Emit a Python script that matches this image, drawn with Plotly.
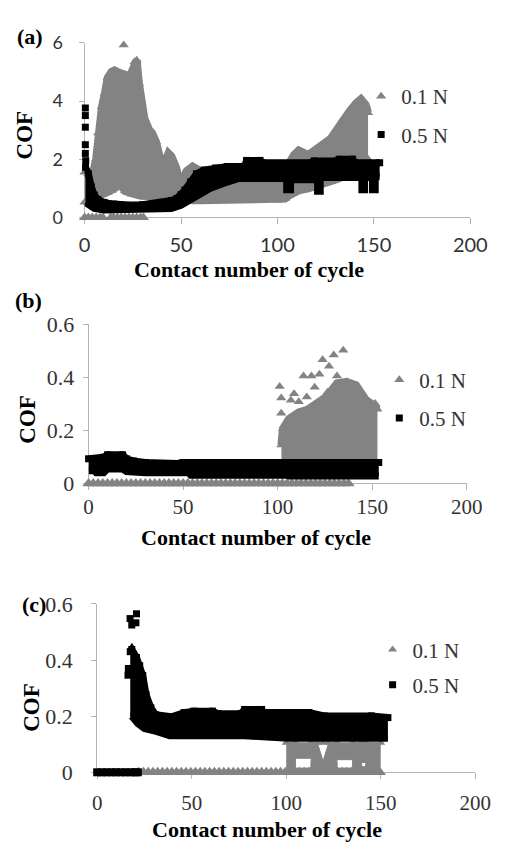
import plotly.graph_objects as go

W, H = 508, 851
GRAY = "#838383"
BLACK = "#000000"
AXIS_COL = "#b4b4b4"
SERIF = "Liberation Serif, Times New Roman, serif"
SANS = "Lato, Liberation Sans, sans-serif"
TXT = "#333333"

SERIES = ["0.1 N", "0.5 N"]

# ---------------- panel (a) ----------------
A_GRAY_ROW_X = [0, 2, 4, 6, 8, 9.5, 13.5, 15, 17, 19, 21, 23, 25, 27, 29, 30.5]
A_GRAY_ROW_Y = [0, 0, 0, 0, 0, 0, 0, 0, 0, 0, 0, 0, 0, 0, 0, 0]
A_GRAY_X = [0, 2, 4, 6, 7, 9, 10.5, 12, 14, 15.5, 17, 18.5, 21, 23, 24.5, 26, 27, 28.2,
            29.4, 31, 33.5, 35, 37, 38.5, 40, 42, 43.5, 45, 47.5, 49, 51, 53, 56, 60, 70,
            80, 90, 100, 104, 106, 108.6, 111, 116, 122.6, 127.6, 131, 134, 137.5, 140.8,
            143.3, 145.7, 147]
A_GRAY_HI = [1.55, 1.5, 1.4, 2.0, 2.9, 3.8, 4.25, 4.8, 5.0, 5.05, 5.0, 4.95, 4.9, 4.85,
             5.0, 5.35, 5.4, 4.6, 4.0, 3.4, 3.0, 2.9, 2.6, 2.05, 1.8, 1.95, 2.2, 2.1, 1.7,
             1.25, 1.35, 1.6, 1.75, 1.6, 1.6, 1.6, 1.6, 1.6, 1.7, 1.85, 2.15, 2.3, 2.15,
             2.42, 2.7, 3.03, 3.37, 3.65, 3.92, 4.06, 3.87, 3.6]
A_GRAY_LO = [0.52, 0.52, 0.52, 0.6, 0.7, 0.8, 0.83, 0.86, 0.93, 1.0, 1.21, 1.15, 0.91,
             0.85, 0.8, 0.78, 0.77, 0.76, 0.75, 0.75, 0.75, 0.75, 0.75, 0.75, 0.75, 0.75,
             0.75, 0.75, 0.72, 0.7, 0.67, 0.62, 0.59, 0.59, 0.59, 0.59, 0.59, 0.59, 0.65,
             0.76, 0.85, 0.93, 1.0, 1.12, 1.23, 1.32, 1.42, 1.52, 1.62, 1.75, 1.95, 2.0]
A_GRAY_PTS_X = [20.3]
A_GRAY_PTS_Y = [5.92]

A_BLACK_PTS_X = [0.4, 0.4, 0.4, 0.4, 0.4, 0.6]
A_BLACK_PTS_Y = [3.76, 3.5, 3.1, 2.5, 2.2, 1.95]
A_BLACK_HI_X = [0.5, 2, 3.5, 5, 7, 10, 15, 20, 25, 30, 35, 40, 45, 48, 50, 52, 55, 58,
                62, 68, 74, 83, 84, 91, 92, 118, 119, 131, 132, 139, 140, 153]
A_BLACK_HI = [1.72, 1.5, 1.05, 0.77, 0.61, 0.52, 0.46, 0.41, 0.42, 0.44, 0.47, 0.52,
              0.58, 0.66, 0.78, 0.94, 1.22, 1.5, 1.63, 1.7, 1.75, 1.76, 1.96, 1.96, 1.88,
              1.88, 1.94, 1.94, 2.0, 2.0, 1.88, 1.88]
A_BLACK_LO_X = [0.5, 2.5, 5, 10, 40, 45, 50, 55, 60, 65, 72, 76, 80, 104.8, 104.8, 106.8,
                106.8, 120.8, 120.8, 122.2, 122.2, 143.8, 143.8, 145.2, 145.2, 149.3,
                149.3, 150.7, 150.7, 153]
A_BLACK_LO = [0.51, 0.45, 0.31, 0.26, 0.26, 0.31, 0.42, 0.62, 0.84, 1.0, 1.17, 1.26,
              1.34, 1.34, 0.95, 0.95, 1.3, 1.3, 0.9, 0.9, 1.37, 1.37, 0.95, 0.95, 1.37,
              1.37, 0.95, 0.95, 1.4, 1.4]

# ---------------- panel (b) ----------------
B_GRAY_ROW_X = [0, 2.5, 5, 7.5, 10, 12.5, 15, 17.5, 20, 22.5, 25, 27.5, 30, 32.5, 35,
                37.5, 40, 42.5, 45, 47.5, 50, 52.5, 55, 57.5, 60, 62.5, 65, 67.5, 70, 72.5,
                75, 77.5, 80, 82.5, 85, 87.5, 90, 92.5, 95, 97.5, 100, 102.5, 105, 107.5,
                110, 112.5, 115, 117.5, 120, 122.5, 125, 127.5, 130, 132.5, 135, 137.5]
B_GRAY_ROW_Y = [0, 0, 0, 0, 0, 0, 0, 0, 0, 0, 0, 0, 0, 0, 0, 0, 0, 0, 0, 0, 0, 0, 0, 0,
                0, 0, 0, 0, 0, 0, 0, 0, 0, 0, 0, 0, 0, 0, 0, 0, 0, 0, 0, 0, 0, 0, 0, 0,
                0, 0, 0, 0, 0, 0, 0, 0]
B_GRAY_X = [102, 102.8, 106, 111, 116, 121, 126, 131.4, 136.5, 141.5, 146.6, 151.6, 152.8]
B_GRAY_HI = [0.145, 0.206, 0.243, 0.267, 0.279, 0.304, 0.328, 0.377, 0.383, 0.37, 0.316,
             0.291, 0.28]
B_GRAY_LO = [0.07, 0.07, 0.07, 0.07, 0.07, 0.07, 0.07, 0.07, 0.07, 0.07, 0.07, 0.07, 0.07]
B_GRAY_PTS_X = [101.1, 101.9, 101.9, 108.7, 113.7, 117.9, 119.6, 123.8, 127.2, 129.7,
                134.7, 122.1, 126.4, 115.4, 111.2, 107, 131.4, 151.6]
B_GRAY_PTS_Y = [0.366, 0.322, 0.265, 0.338, 0.405, 0.405, 0.363, 0.467, 0.442, 0.485,
                0.503, 0.412, 0.344, 0.326, 0.308, 0.314, 0.405, 0.302]
B_BLACK_HI_X = [0, 6, 8, 10, 18, 20, 23.6, 30, 39, 47, 50, 153.5]
B_BLACK_HI = [0.093, 0.093, 0.099, 0.108, 0.108, 0.093, 0.085, 0.079, 0.075, 0.075,
              0.079, 0.079]
B_BLACK_LO_X = [0, 3, 4, 8, 10, 18, 20, 30, 53, 54, 105, 106, 153.5]
B_BLACK_LO = [0.048, 0.048, 0.04, 0.04, 0.054, 0.054, 0.045, 0.04, 0.04, 0.031, 0.031,
              0.028, 0.028]

# ---------------- panel (c) ----------------
C_GRAY_ROW_X = [22, 24.5, 27, 29.5, 32, 34.5, 37, 39.5, 42, 44.5, 47, 49.5, 52, 54.5, 57,
                59.5, 62, 64.5, 67, 69.5, 72, 74.5, 77, 79.5, 82, 84.5, 87, 89.5, 92,
                94.5, 97, 99.5, 102, 104.5, 107, 109.5, 112, 114.5, 117, 119.5, 122,
                124.5, 127, 129.5, 132, 134.5, 137, 139.5, 142, 144.5, 147, 149.5]
C_GRAY_ROW_Y = [0, 0, 0, 0, 0, 0, 0, 0, 0, 0, 0, 0, 0, 0, 0, 0, 0, 0, 0, 0, 0, 0, 0, 0,
                0, 0, 0, 0, 0, 0, 0, 0, 0, 0, 0, 0, 0, 0, 0, 0, 0, 0, 0, 0, 0, 0, 0, 0,
                0, 0, 0, 0]
C_GRAY_X = [100, 104.5, 105, 113, 113.5, 116.5, 119.5, 122.5, 126.5, 127, 135, 135.5,
            139.5, 140, 142, 142.5, 150]
C_GRAY_LOW_TOP = [0.105, 0.105, 0.015, 0.015, 0.105, 0.105, 0.04, 0.105, 0.105, 0.015,
                  0.015, 0.105, 0.105, 0.02, 0.02, 0.105, 0.105]
C_GRAY_HIGH_BOT = [0.105, 0.105, 0.05, 0.05, 0.105, 0.105, 0.105, 0.105, 0.105, 0.045,
                   0.045, 0.105, 0.105, 0.035, 0.035, 0.105, 0.105]
C_GRAY_TOP = [0.105, 0.105, 0.105, 0.105, 0.105, 0.105, 0.105, 0.105, 0.105, 0.105,
              0.105, 0.105, 0.105, 0.105, 0.105, 0.105, 0.105]
C_BLACK_ROW_X = [0, 2.5, 5, 7.5, 10, 12.5, 15, 17.5, 20, 21.5]
C_BLACK_ROW_Y = [0, 0, 0, 0, 0, 0, 0, 0, 0, 0]
C_BLACK_HI_X = [17.5, 18.3, 20.8, 22.5, 24.1, 25.9, 28.4, 30.9, 39.3, 46, 51, 61, 64, 76,
                78, 87, 88, 112, 120, 145, 153.8]
C_BLACK_HI = [0.43, 0.438, 0.409, 0.38, 0.345, 0.276, 0.23, 0.205, 0.198, 0.213, 0.218,
              0.218, 0.209, 0.209, 0.224, 0.224, 0.213, 0.213, 0.201, 0.201, 0.195]
C_BLACK_LO_X = [17.5, 18.3, 21.6, 25, 31.7, 38.4, 78, 100, 101, 153.8]
C_BLACK_LO = [0.2, 0.2, 0.173, 0.156, 0.145, 0.13, 0.13, 0.127, 0.121, 0.121]
C_BLACK_PTS_X = [17.4, 18.3, 20.5, 20.8, 16.3, 16.5]
C_BLACK_PTS_Y = [0.548, 0.525, 0.533, 0.565, 0.346, 0.37]

X_TICKS = [0, 50, 100, 150, 200]

fig = go.Figure()


def px_x(p):
    return p / W


def px_y(p):
    return 1 - p / H


def common(xa, ya):
    return dict(xaxis=xa, yaxis=ya, hoverinfo="skip", cliponaxis=False)


def band(xa, ya, xlo, ylo, xhi, yhi, color, width):
    fig.add_trace(go.Scatter(x=xlo, y=ylo, mode="lines", showlegend=False,
                             line=dict(color=color, width=width), **common(xa, ya)))
    fig.add_trace(go.Scatter(x=xhi, y=yhi, mode="lines", fill="tonexty", fillcolor=color,
                             showlegend=False, line=dict(color=color, width=width),
                             **common(xa, ya)))


def pts(xa, ya, x, y, color, symbol, size, name=None, legend="legend"):
    fig.add_trace(go.Scatter(x=x, y=y, mode="markers", name=name,
                             showlegend=name is not None, legend=legend,
                             legendgroup=(name or "") + legend,
                             marker=dict(symbol=symbol, size=size, color=color,
                                         line=dict(width=0)),
                             **common(xa, ya)))


TRI, SQ = "triangle-up", "square"

# (a)
pts("x", "y", A_GRAY_ROW_X, A_GRAY_ROW_Y, GRAY, TRI, 10)
band("x", "y", A_GRAY_X, A_GRAY_LO, A_GRAY_X, A_GRAY_HI, GRAY, 8)
pts("x", "y", A_GRAY_X, A_GRAY_HI, GRAY, TRI, 9)
pts("x", "y", A_GRAY_X, A_GRAY_LO, GRAY, TRI, 9)
pts("x", "y", A_GRAY_PTS_X, A_GRAY_PTS_Y, GRAY, TRI, 9, SERIES[0], "legend")
band("x", "y", A_BLACK_LO_X, A_BLACK_LO, A_BLACK_HI_X, A_BLACK_HI, BLACK, 7)
pts("x", "y", A_BLACK_HI_X, A_BLACK_HI, BLACK, SQ, 7)
pts("x", "y", A_BLACK_PTS_X, A_BLACK_PTS_Y, BLACK, SQ, 7, SERIES[1], "legend")

# (b)
pts("x2", "y2", B_GRAY_ROW_X, B_GRAY_ROW_Y, GRAY, TRI, 11)
band("x2", "y2", B_GRAY_X, B_GRAY_LO, B_GRAY_X, B_GRAY_HI, GRAY, 8)
pts("x2", "y2", B_GRAY_X, B_GRAY_HI, GRAY, TRI, 9)
pts("x2", "y2", B_GRAY_PTS_X, B_GRAY_PTS_Y, GRAY, TRI, 9, SERIES[0], "legend2")
band("x2", "y2", B_BLACK_LO_X, B_BLACK_LO, B_BLACK_HI_X, B_BLACK_HI, BLACK, 7)
pts("x2", "y2", B_BLACK_HI_X, B_BLACK_HI, BLACK, SQ, 7, SERIES[1], "legend2")

# (c)
pts("x3", "y3", C_GRAY_ROW_X, C_GRAY_ROW_Y, GRAY, TRI, 11)
fig.add_trace(go.Scatter(x=C_GRAY_X, y=C_GRAY_LOW_TOP, mode="lines", fill="tozeroy",
                         fillcolor=GRAY, line=dict(color=GRAY, width=1), showlegend=False,
                         **common("x3", "y3")))
band("x3", "y3", C_GRAY_X, C_GRAY_HIGH_BOT, C_GRAY_X, C_GRAY_TOP, GRAY, 1)
pts("x3", "y3", C_GRAY_X, C_GRAY_TOP, GRAY, TRI, 8, SERIES[0], "legend3")
pts("x3", "y3", C_BLACK_ROW_X, C_BLACK_ROW_Y, BLACK, SQ, 8)
band("x3", "y3", C_BLACK_LO_X, C_BLACK_LO, C_BLACK_HI_X, C_BLACK_HI, BLACK, 7)
pts("x3", "y3", C_BLACK_HI_X, C_BLACK_HI, BLACK, SQ, 7)
pts("x3", "y3", C_BLACK_PTS_X, C_BLACK_PTS_Y, BLACK, SQ, 7, SERIES[1], "legend3")


def xaxis(x0, x1, ya, font, standoff):
    return dict(domain=[px_x(x0), px_x(x1)], range=[0, 200], tickvals=X_TICKS,
                showline=True, linecolor=AXIS_COL, linewidth=1, ticks="outside",
                ticklen=6, tickcolor=AXIS_COL, showgrid=False, zeroline=False,
                tickfont=font, anchor=ya, layer="below traces", fixedrange=True,
                ticklabelstandoff=standoff)


def yaxis(y0, y1, rng, dt, xa, font, standoff):
    return dict(domain=[px_y(y0), px_y(y1)], range=rng, dtick=dt, tick0=0,
                showline=True, linecolor=AXIS_COL, linewidth=1, ticks="outside",
                ticklen=5, tickcolor=AXIS_COL, showgrid=False, zeroline=False,
                tickfont=font, anchor=xa, layer="below traces", fixedrange=True,
                ticklabelstandoff=standoff)


sans_x = dict(family=SANS, size=20, color=TXT)
sans_y = dict(family=SANS, size=18, color=TXT)
serif_t = dict(family=SERIF, size=22, color=TXT)
serif_x = dict(family=SERIF, size=21, color=TXT)

leg = dict(font=dict(family=SERIF, size=21, color=TXT), bgcolor="rgba(0,0,0,0)",
           xanchor="left", yanchor="top", itemsizing="trace", traceorder="grouped")

fig.update_layout(
    width=W, height=H, margin=dict(l=0, r=0, t=0, b=0),
    paper_bgcolor="white", plot_bgcolor="white",
    xaxis=xaxis(82.3, 486.3, "y", sans_x, 4),
    yaxis=yaxis(211.7, 31.7, [0, 6], 2, "x", sans_y, 12),
    xaxis2=xaxis(86.5, 482.5, "y2", serif_x, -2),
    yaxis2=yaxis(485.7, 321.9, [0, 0.6], 0.2, "x2", serif_t, 4),
    xaxis3=xaxis(95.5, 491.5, "y3", serif_x, 6),
    yaxis3=yaxis(783.3, 609.9, [0, 0.6], 0.2, "x3", serif_t, 14),
    legend=dict(leg, x=px_x(372), y=px_y(66), tracegroupgap=8),
    legend2=dict(leg, x=px_x(391), y=px_y(358), tracegroupgap=8),
    legend3=dict(leg, x=px_x(384), y=px_y(636), tracegroupgap=5),
)

ann = []
for txt, x, y in [("(a)", 25, 25), ("(b)", 24, 297), ("(c)", 29, 610)]:
    ann.append(dict(text="<b>%s</b>" % txt, x=px_x(x), y=px_y(y), xref="paper",
                    yref="paper", showarrow=False, xanchor="center", yanchor="middle",
                    font=dict(family=SERIF, size=22, color="black")))
for x, y in [(255, 265), (262, 541), (273, 842)]:
    ann.append(dict(text="<b>Contact number of cycle</b>", x=px_x(x), y=px_y(y),
                    xref="paper", yref="paper", showarrow=False, xanchor="center",
                    yanchor="middle", borderpad=0,
                    font=dict(family=SERIF, size=22, color="black")))
for x, y in [(19, 127), (23, 419), (27, 716)]:
    ann.append(dict(text="<b>COF</b>", x=px_x(x), y=px_y(y), xref="paper",
                    yref="paper", showarrow=False, textangle=-90, xanchor="center",
                    yanchor="middle", font=dict(family=SERIF, size=23, color="black")))
fig.update_layout(annotations=ann)

fig.write_html("out.html", config={"displayModeBar": False},
               post_script="document.body.style.margin='0';"
                           "document.body.style.overflow='hidden';")
